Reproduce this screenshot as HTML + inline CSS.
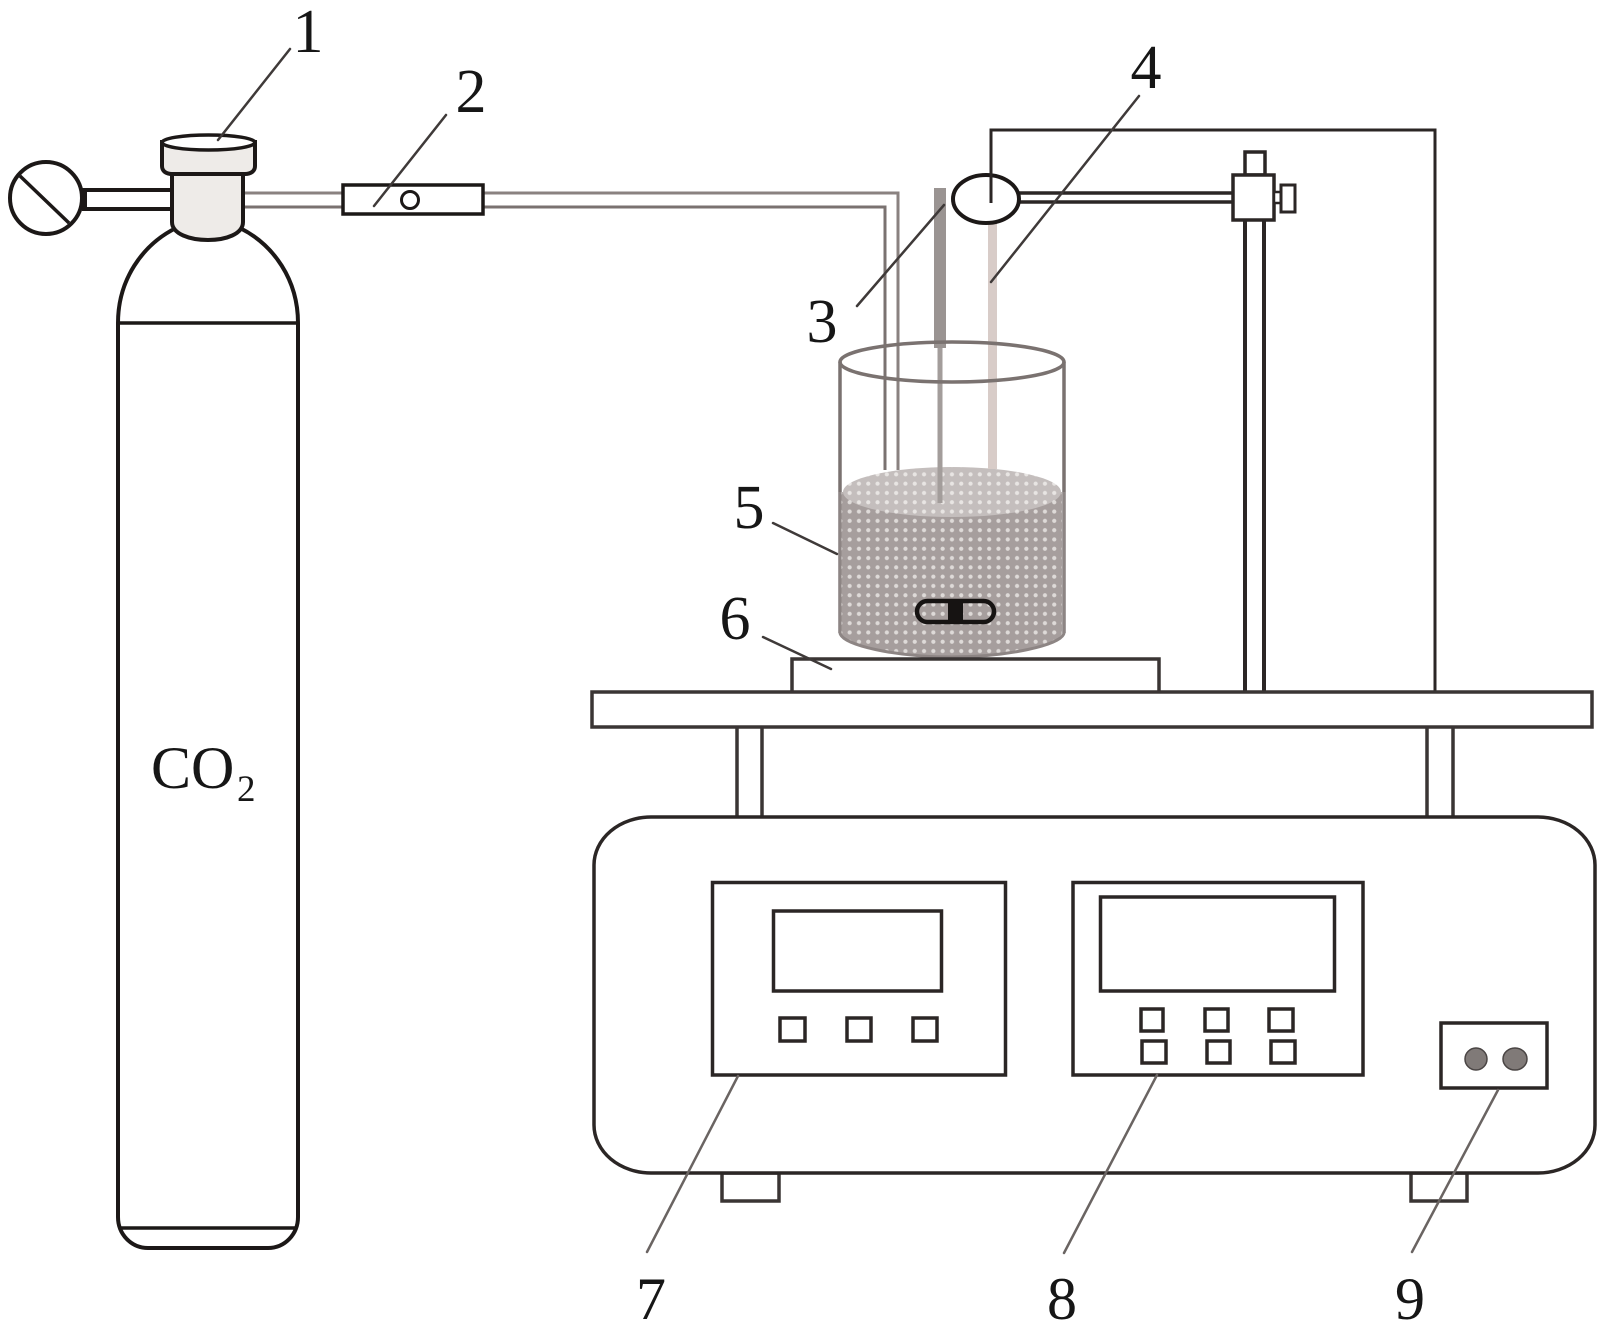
<!DOCTYPE html>
<html>
<head>
<meta charset="utf-8">
<style>
html,body{margin:0;padding:0;background:#fff;width:1606px;height:1335px;overflow:hidden}
svg{display:block}
text{font-family:"Liberation Serif",serif;fill:#161616}
</style>
</head>
<body>
<svg width="1606" height="1335" viewBox="0 0 1606 1335" xmlns="http://www.w3.org/2000/svg">
<defs>
<pattern id="d1" width="9.3" height="9.3" patternUnits="userSpaceOnUse" x="845" y="479">
<rect width="9.4" height="9.4" fill="#a69e9d"/>
<circle cx="4.650" cy="4.650" r="2.100" fill="#dedad8"/>
</pattern>
<pattern id="d2" width="9.3" height="9.3" patternUnits="userSpaceOnUse" x="845" y="479">
<rect width="9.4" height="9.4" fill="#c4bebd"/>
<circle cx="4.650" cy="4.650" r="2.100" fill="#e8e5e3"/>
</pattern>
</defs>
<rect width="1606" height="1335" fill="#fff"/>

<!-- cylinder -->
<g fill="none" stroke="#1c1817" stroke-width="4">
<path d="M118 1217V323C118 280 142 245 176 228M298 1217V323C298 280 274 245 240 228"/>
<path d="M118 1217C118 1234 131 1248 148 1248H268C285 1248 298 1234 298 1217"/>
<path d="M118 323H298" stroke-width="3.500"/>
<path d="M120 1228H296" stroke-width="3.500"/>
</g>

<!-- gauge -->
<path d="M82 190H174M82 209H174" stroke="#1c1817" stroke-width="4" fill="none"/>
<rect x="80" y="190" width="7" height="19" fill="#1c1817"/>
<circle cx="46" cy="198" r="36" fill="#fff" stroke="#1c1817" stroke-width="4"/>
<path d="M20 176L69 223" stroke="#1c1817" stroke-width="3.500"/>

<!-- tubes to beaker -->
<path d="M243 193H898V470" fill="none" stroke="#8a8280" stroke-width="3"/>
<path d="M243 207H885V470" fill="none" stroke="#7a7270" stroke-width="3"/>

<!-- valve -->
<path d="M172 170V222C172 234 190 240 208 240C226 240 243 234 243 222V170Z" fill="#eeebe8" stroke="#1c1817" stroke-width="4"/>
<path d="M162 142V166C162 171 166 174 172 174H245C251 174 255 171 255 166V142Z" fill="#eeebe8" stroke="#1c1817" stroke-width="4"/>
<ellipse cx="208.500" cy="142.500" rx="46.500" ry="7.500" fill="#fff" stroke="#1c1817" stroke-width="3.500"/>

<!-- flow meter -->
<rect x="343" y="185" width="140" height="29" fill="#fff" stroke="#1c1817" stroke-width="3.500"/>
<circle cx="410" cy="200" r="8.500" fill="#fff" stroke="#1c1817" stroke-width="3"/>

<!-- beaker back and liquid -->
<path d="M840 633V362M1064 633V362" stroke="#7a7270" stroke-width="3.500" fill="none"/>
<path d="M841 492V633C843 645 895 657 952 657C1007 657 1060 645 1062 633V492Z" fill="url(#d1)"/>
<ellipse cx="952" cy="492" rx="109" ry="25" fill="url(#d2)"/>
<path d="M840 492V633C842 645 895 657 952 657C1007 657 1062 645 1064 633V492" fill="none" stroke="#8d8584" stroke-width="3"/>

<!-- rod 3 -->
<rect x="934" y="188" width="12" height="160" fill="#9a9492"/>
<rect x="937.500" y="348" width="5" height="155" fill="#a39d9b"/>

<!-- rod 4 -->
<rect x="988" y="223" width="9" height="246" fill="#d8ccc8"/>

<!-- beaker rim -->
<ellipse cx="952" cy="362" rx="112" ry="20" fill="none" stroke="#7a7270" stroke-width="3.500"/>

<!-- stir bar -->
<rect x="917" y="601" width="77" height="21" rx="10.500" fill="none" stroke="#161312" stroke-width="4.500"/>
<rect x="948" y="599" width="15" height="24" fill="#161312"/>

<!-- hot plate -->
<path d="M792 692V659H1159V692" fill="#fff" stroke="#3a3534" stroke-width="3.500"/>

<!-- stand -->
<path d="M1245 221V691M1264 221V691" stroke="#2b2625" stroke-width="4" fill="none"/>
<path d="M1019 193H1232M1019 202H1232" stroke="#2b2625" stroke-width="3.500" fill="none"/>
<rect x="1245" y="152" width="20" height="23" fill="#fff" stroke="#2b2625" stroke-width="3.500"/>
<rect x="1233" y="175" width="41" height="45" fill="#fff" stroke="#2b2625" stroke-width="3.500"/>
<rect x="1274" y="192" width="7" height="11" fill="#fff" stroke="#2b2625" stroke-width="2.500"/>
<rect x="1281" y="185" width="14" height="27" fill="#fff" stroke="#2b2625" stroke-width="3"/>
<ellipse cx="986" cy="199" rx="33" ry="24" fill="#fff" stroke="#1c1817" stroke-width="4"/>
<path d="M991 203V130H1435V691" fill="none" stroke="#2b2625" stroke-width="3"/>

<!-- table -->
<rect x="592" y="692" width="1000" height="35" fill="#fff" stroke="#3a3534" stroke-width="3.500"/>
<path d="M737 727V816M762 727V816M1427 727V816M1453 727V816" stroke="#3a3534" stroke-width="3.500" fill="none"/>

<!-- base unit -->
<rect x="722" y="1173" width="57" height="28" fill="#fff" stroke="#3a3534" stroke-width="3.500"/>
<rect x="1411" y="1173" width="56" height="28" fill="#fff" stroke="#3a3534" stroke-width="3.500"/>
<rect x="594" y="817" width="1001" height="356" rx="57" ry="48" fill="#fff" stroke="#2b2625" stroke-width="3.500"/>

<g fill="#fff" stroke="#2b2625" stroke-width="3.500">
<rect x="712.500" y="882.500" width="293" height="192.500"/>
<rect x="773.500" y="911" width="168" height="80"/>
<rect x="780" y="1018" width="25" height="23"/>
<rect x="847" y="1018" width="24" height="23"/>
<rect x="913" y="1018" width="24" height="23"/>
<rect x="1073" y="882.500" width="290" height="192.500"/>
<rect x="1100.500" y="897" width="234" height="94"/>
<rect x="1141" y="1009" width="22" height="22"/>
<rect x="1205" y="1009" width="23" height="22"/>
<rect x="1269" y="1009" width="24" height="22"/>
<rect x="1142" y="1041" width="24" height="22"/>
<rect x="1207" y="1041" width="23" height="22"/>
<rect x="1271" y="1041" width="24" height="22"/>
<rect x="1441" y="1023" width="106" height="65"/>
</g>
<ellipse cx="1476" cy="1059" rx="11" ry="11" fill="#807a78" stroke="#4a4544" stroke-width="1.500"/>
<ellipse cx="1515" cy="1059" rx="12" ry="11" fill="#807a78" stroke="#4a4544" stroke-width="1.500"/>

<!-- leaders -->
<g stroke="#3f3a39" stroke-width="2.500" fill="none" stroke-linecap="round">
<path d="M290 49L218 140"/>
<path d="M446 115L374 206"/>
<path d="M944 205L857 306"/>
<path d="M1139 96L991 282"/>
<path d="M773 523L837 554"/>
<path d="M763 637L831 669"/>
</g>
<g stroke="#6a6462" stroke-width="2.500" fill="none" stroke-linecap="round">
<path d="M738 1076L647 1252"/>
<path d="M1157 1075L1064 1253"/>
<path d="M1498 1090L1412 1252"/>
</g>

<!-- labels -->
<g font-size="62" text-anchor="middle">
<text x="308" y="52">1</text>
<text x="471" y="112">2</text>
<text x="822" y="342">3</text>
<text x="1146" y="88">4</text>
<text x="749" y="528">5</text>
<text x="735" y="639">6</text>
</g>
<g font-size="60" text-anchor="middle">
<text x="651" y="1319">7</text>
<text x="1062" y="1319">8</text>
<text x="1410" y="1319">9</text>
</g>
<text x="151" y="788" font-size="60">CO</text>
<text x="237" y="801" font-size="37">2</text>
</svg>
</body>
</html>
